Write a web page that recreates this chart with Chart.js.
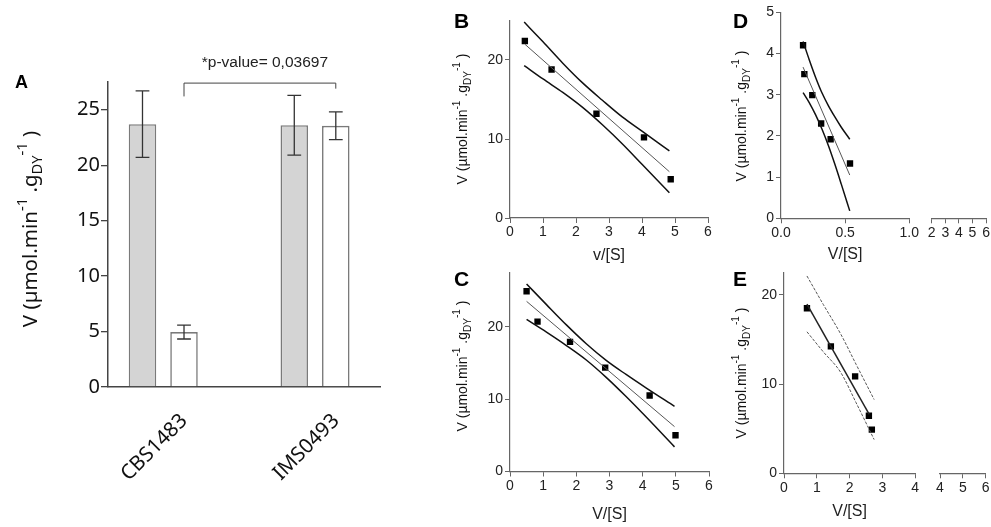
<!DOCTYPE html>
<html>
<head>
<meta charset="utf-8">
<script src="https://cdn.jsdelivr.net/npm/chart.js@4.4.1/dist/chart.umd.min.js"></script>
<style>
  body { margin: 0; background: #fff; }
  #wrap { position: relative; width: 991px; height: 527px; overflow: hidden; background: #fff; }
  #wrap canvas { position: absolute; }
</style>
</head>
<body>
<div id="wrap">
  <canvas id="chartA" width="390" height="527" style="left:0;top:0"></canvas>
  <canvas id="chartB" width="300" height="265" style="left:420px;top:0"></canvas>
  <canvas id="chartC" width="300" height="265" style="left:420px;top:262px"></canvas>
  <canvas id="chartD" width="200" height="265" style="left:720px;top:0"></canvas>
  <canvas id="chartD2" width="69" height="265" style="left:922px;top:0"></canvas>
  <canvas id="chartE" width="200" height="265" style="left:720px;top:262px"></canvas>
  <canvas id="chartE2" width="69" height="265" style="left:922px;top:262px"></canvas>
</div>
<script>
// Panel A - bars with error bars
const strains = ['CBS1483', 'IMS0493'];
const grayMean = [23.7, 23.6];
const grayErr = [3.0, 2.7];
const whiteMean = [4.95, 23.55];
const whiteErr = [0.62, 1.25];
const aTicks = [0, 5, 10, 15, 20, 25];
const bracketTop = 27.4;
const bracketLegs = [26.2, 26.9];
const pText = '*p-value= 0,03697';

// Panel B
const bX = [0.45, 1.26, 2.62, 4.06, 4.87];
const bY = [22.4, 18.8, 13.2, 10.2, 4.9];
const bFitX = [0.45, 4.83];
const bFitY = [22.0, 5.86];
const bBandX = [0.43, 1.0, 1.6, 2.2, 2.8, 3.4, 4.0, 4.83];
const bUpY = [24.8, 22.3, 19.6, 17.1, 14.9, 12.8, 11.0, 8.5];
const bLoY = [19.3, 17.6, 15.9, 14.0, 11.8, 9.4, 6.8, 3.2];
const bTicksY = [0, 10, 20];

// Panel C
const cX = [0.50, 0.83, 1.81, 2.87, 4.21, 4.99];
const cY = [24.9, 20.7, 17.9, 14.35, 10.5, 5.0];
const cFitX = [0.5, 4.96];
const cFitY = [23.5, 6.2];
const cBandX = [0.5, 1.1, 1.7, 2.3, 2.9, 3.5, 4.1, 4.96];
const cUpY = [25.9, 23.05, 20.25, 17.65, 15.35, 13.4, 11.55, 9.0];
const cLoY = [21.0, 19.25, 17.4, 15.4, 13.0, 10.35, 7.55, 3.4];
const cTicksY = [0, 10, 20];

// Panel D
const dX = [0.172, 0.182, 0.244, 0.313, 0.387, 0.538];
const dY = [4.2, 3.5, 2.99, 2.3, 1.92, 1.33];
const dFitX = [0.172, 0.536];
const dFitY = [3.67, 1.05];
const dBandX = [0.172, 0.22, 0.27, 0.32, 0.37, 0.42, 0.47, 0.536];
const dUpY = [4.29, 3.85, 3.42, 3.04, 2.73, 2.46, 2.21, 1.92];
const dLoY = [3.05, 2.81, 2.51, 2.16, 1.76, 1.31, 0.83, 0.18];
const dTicksX = [0, 0.5, 1.0];
const dBreakTicks = [2, 3, 4, 5, 6];

// Panel E
const eX = [0.70, 1.43, 2.17, 2.59, 2.68];
const eY = [18.48, 14.22, 10.85, 6.44, 4.89];
const eFitX = [0.70, 2.6];
const eFitY = [18.96, 6.6];
const eBandX = [0.70, 1.2, 1.73, 2.2, 2.75];
const eUpY = [22.1, 18.9, 15.6, 12.2, 8.26];
const eLoY = [15.85, 13.6, 11.3, 7.9, 3.78];
const eTicksY = [0, 10, 20];
const eBreakTicks = [4, 5, 6];

const yTitleParts = [['V (\u00b5mol.min', 0], ['-1', 1], [' .g', 0], ['DY', -1], ['-1', 1], [' )', 0]];

const pts = (xs, ys) => xs.map((x, i) => ({ x: x, y: ys[i] }));

function drawRich(ctx, parts, x, y, size, family) {
    ctx.save();
    ctx.translate(x, y);
    ctx.rotate(-Math.PI / 2);
    ctx.textBaseline = 'alphabetic';
    ctx.textAlign = 'left';
    ctx.fillStyle = '#111';
    const fontOf = k => (k ? size * 0.72 : size) + 'px ' + family;
    const widths = parts.map(p => { ctx.font = fontOf(p[1]); return ctx.measureText(p[0]).width; });
    let cur = -widths.reduce((a, b) => a + b, 0) / 2;
    parts.forEach((p, i) => {
        ctx.font = fontOf(p[1]);
        const dy = p[1] === 1 ? -size * 0.5 : (p[1] === -1 ? size * 0.25 : 0);
        ctx.fillText(p[0], cur, dy);
        cur += widths[i];
    });
    ctx.restore();
}

// panel letter + rotated y title
function decor(cfg) {
    return {
        id: 'decor',
        afterDraw(chart) {
            const ctx = chart.ctx;
            ctx.save();
            ctx.fillStyle = '#000';
            ctx.font = 'bold ' + cfg.labelSize + 'px "Liberation Sans"';
            ctx.textBaseline = 'alphabetic';
            ctx.fillText(cfg.label, cfg.lx, cfg.ly);
            ctx.restore();
            drawRich(ctx, yTitleParts, cfg.tx, cfg.ty, cfg.titleSize, cfg.family);
        }
    };
}

const errorBars = {
    id: 'errorBars',
    afterDatasetsDraw(chart) {
        const ctx = chart.ctx;
        const y = chart.scales.y;
        ctx.save();
        ctx.strokeStyle = '#333';
        ctx.lineWidth = 1.3;
        chart.data.datasets.forEach((ds, di) => {
            chart.getDatasetMeta(di).data.forEach((bar, i) => {
                const m = ds.data[i].y, e = ds.errors[i];
                const top = y.getPixelForValue(m + e), bot = y.getPixelForValue(m - e);
                const cap = bar.width * 0.25;
                ctx.beginPath();
                ctx.moveTo(bar.x, top); ctx.lineTo(bar.x, bot);
                ctx.moveTo(bar.x - cap, top); ctx.lineTo(bar.x + cap, top);
                ctx.moveTo(bar.x - cap, bot); ctx.lineTo(bar.x + cap, bot);
                ctx.stroke();
            });
        });
        // significance bracket between the white bars
        const w = chart.getDatasetMeta(1).data;
        const yt = y.getPixelForValue(bracketTop);
        ctx.lineWidth = 1;
        ctx.strokeStyle = '#444';
        ctx.beginPath();
        ctx.moveTo(w[0].x, y.getPixelForValue(bracketLegs[0]));
        ctx.lineTo(w[0].x, yt);
        ctx.lineTo(w[1].x, yt);
        ctx.lineTo(w[1].x, y.getPixelForValue(bracketLegs[1]));
        ctx.stroke();
        ctx.fillStyle = '#222';
        ctx.font = '15.5px "Liberation Sans"';
        ctx.textAlign = 'center';
        ctx.textBaseline = 'middle';
        ctx.fillText(pText, (w[0].x + w[1].x) / 2 + 5, yt - 20);
        ctx.restore();
    }
};

Chart.defaults.font.family = '"Liberation Sans", Arial, sans-serif';
Chart.defaults.color = '#222';

const commonOptions = {
    responsive: false,
    animation: false,
    events: [],
    plugins: { legend: { display: false }, tooltip: { enabled: false } }
};

// Panel A
new Chart(document.getElementById('chartA'), {
    type: 'bar',
    data: {
        datasets: [{
            data: pts(strains.map((s, i) => i), grayMean),
            errors: grayErr,
            backgroundColor: '#d4d4d4',
            borderColor: '#7a7a7a',
            borderWidth: 1.6,
            categoryPercentage: 0.547,
            barPercentage: 0.663
        }, {
            data: pts(strains.map((s, i) => i), whiteMean),
            errors: whiteErr,
            backgroundColor: '#ffffff',
            borderColor: '#7a7a7a',
            borderWidth: 1.6,
            categoryPercentage: 0.547,
            barPercentage: 0.663
        }]
    },
    options: {
        ...commonOptions,
        layout: { padding: { top: 82, right: 10, left: 0, bottom: 0 } },
        scales: {
            x: {
                type: 'linear',
                offset: false,
                min: -0.364,
                max: 1.428,
                afterBuildTicks: s => { s.ticks = strains.map((c, i) => ({ value: i })); },
                afterFit: s => { s.height = 140; },
                grid: { display: false, drawTicks: false },
                border: { color: '#444', width: 1.5 },
                ticks: {
                    callback: v => strains[v],
                    minRotation: 45,
                    maxRotation: 45,
                    labelOffset: 21,
                    padding: 22,
                    color: '#111',
                    font: { family: '"Noto Sans"', size: 20.5 }
                }
            },
            y: {
                min: 0,
                max: 27.5,
                afterBuildTicks: s => { s.ticks = aTicks.map(v => ({ value: v })); },
                afterFit: s => { s.width = 108; },
                grid: { drawOnChartArea: false, tickLength: 7, color: '#444', lineWidth: 1.3 },
                border: { color: '#444', width: 1.5 },
                ticks: { padding: 1, color: '#111', font: { family: '"Noto Sans"', size: 20 } }
            }
        }
    },
    plugins: [errorBars, decor({ label: 'A', lx: 15, ly: 88, labelSize: 18, tx: 37, ty: 229, titleSize: 20.5, family: '"Noto Sans"' })]
});

// helpers for the Eadie-Hofstee panels
function bandSet(xs, ys, opts) {
    return Object.assign({
        data: pts(xs, ys), showLine: true, pointRadius: 0, fill: false,
        borderColor: '#111', borderWidth: 1.5, cubicInterpolationMode: 'monotone', tension: 0.4
    }, opts || {});
}
function pointSet(xs, ys) {
    return { data: pts(xs, ys), showLine: false, pointStyle: 'rect', pointRadius: 4.5, backgroundColor: '#000', borderColor: '#000', borderWidth: 0 };
}
function axisX(min, max, ticks, title, height, titlePad, fmt) {
    return {
        type: 'linear', min: min, max: max,
        afterBuildTicks: s => { s.ticks = ticks.map(v => ({ value: v })); },
        afterFit: s => { s.height = height; },
        grid: { drawOnChartArea: false, tickLength: 5, color: '#666', lineWidth: 1 },
        border: { color: '#666', width: 1.2 },
        ticks: { padding: 1, color: '#222', font: { size: 14 }, callback: fmt || (v => v) },
        title: { display: !!title, text: title, color: '#222', font: { size: 16 }, padding: { top: 0, bottom: titlePad } }
    };
}
function axisY(min, max, ticks, width, display) {
    return {
        display: display !== false,
        min: min, max: max,
        afterBuildTicks: s => { s.ticks = ticks.map(v => ({ value: v })); },
        afterFit: s => { s.width = width; },
        grid: { drawOnChartArea: false, tickLength: 5, color: '#666', lineWidth: 1 },
        border: { color: '#666', width: 1.2 },
        ticks: { padding: 2, color: '#222', font: { size: 14 } }
    };
}
const range = (a, b) => { const r = []; for (let v = a; v <= b; v++) r.push(v); return r; };

// Panel B
new Chart(document.getElementById('chartB'), {
    type: 'scatter',
    data: { datasets: [
        bandSet(bBandX, bUpY), bandSet(bBandX, bLoY),
        bandSet(bFitX, bFitY, { borderColor: '#555', borderWidth: 1, tension: 0 }),
        pointSet(bX, bY)
    ] },
    options: {
        ...commonOptions,
        layout: { padding: { top: 20.5, right: 12, left: 0, bottom: 0 } },
        scales: { x: axisX(0, 6, range(0, 6), 'v/[S]', 47, 0), y: axisY(0, 25, bTicksY, 90) }
    },
    plugins: [decor({ label: 'B', lx: 34, ly: 28, labelSize: 21, tx: 47, ty: 119, titleSize: 14, family: '"Liberation Sans"' })]
});

// Panel C
new Chart(document.getElementById('chartC'), {
    type: 'scatter',
    data: { datasets: [
        bandSet(cBandX, cUpY), bandSet(cBandX, cLoY),
        bandSet(cFitX, cFitY, { borderColor: '#555', borderWidth: 1, tension: 0 }),
        pointSet(cX, cY)
    ] },
    options: {
        ...commonOptions,
        layout: { padding: { top: 9, right: 11, left: 0, bottom: 0 } },
        scales: { x: axisX(0, 6, range(0, 6), 'V/[S]', 55.5, 2.4), y: axisY(0, 27.5, cTicksY, 90) }
    },
    plugins: [decor({ label: 'C', lx: 34, ly: 24, labelSize: 21, tx: 47, ty: 104, titleSize: 14, family: '"Liberation Sans"' })]
});

// Panel D
new Chart(document.getElementById('chartD'), {
    type: 'scatter',
    data: { datasets: [
        bandSet(dBandX, dUpY), bandSet(dBandX, dLoY),
        bandSet(dFitX, dFitY, { borderColor: '#555', borderWidth: 1, tension: 0 }),
        pointSet(dX, dY)
    ] },
    options: {
        ...commonOptions,
        layout: { padding: { top: 12.3, right: 9, left: 0, bottom: 0 } },
        scales: {
            x: axisX(0, 1, dTicksX, 'V/[S]', 46.7, 0.4, v => v.toFixed(1)),
            y: axisY(0, 5, range(0, 5), 61)
        }
    },
    plugins: [decor({ label: 'D', lx: 13, ly: 28, labelSize: 21, tx: 26, ty: 116, titleSize: 14, family: '"Liberation Sans"' })]
});

// Panel D, broken x-axis segment
new Chart(document.getElementById('chartD2'), {
    type: 'scatter',
    data: { datasets: [{ data: [] }] },
    options: {
        ...commonOptions,
        layout: { padding: { top: 12.3, right: 3.7, left: 9.7, bottom: 0 } },
        scales: { x: axisX(2, 6, dBreakTicks, '', 46.7, 0), y: axisY(0, 5, [], 0, false) }
    }
});

// Panel E
new Chart(document.getElementById('chartE'), {
    type: 'scatter',
    data: { datasets: [
        bandSet(eBandX, eUpY, { borderColor: '#555', borderWidth: 1, borderDash: [3, 1.5] }),
        bandSet(eBandX, eLoY, { borderColor: '#555', borderWidth: 1, borderDash: [3, 1.5] }),
        bandSet(eFitX, eFitY, { borderColor: '#222', borderWidth: 1.5, tension: 0 }),
        pointSet(eX, eY)
    ] },
    options: {
        ...commonOptions,
        layout: { padding: { top: 8.8, right: 3.7, left: 0, bottom: 0 } },
        scales: { x: axisX(0, 4, range(0, 4), 'V/[S]', 53.7, 5.4), y: axisY(0, 22.5, eTicksY, 64) }
    },
    plugins: [decor({ label: 'E', lx: 13, ly: 24, labelSize: 21, tx: 26, ty: 111, titleSize: 14, family: '"Liberation Sans"' })]
});

// Panel E, broken x-axis segment
new Chart(document.getElementById('chartE2'), {
    type: 'scatter',
    data: { datasets: [{ data: [] }] },
    options: {
        ...commonOptions,
        layout: { padding: { top: 8.8, right: 5.3, left: 18, bottom: 0 } },
        scales: { x: axisX(4, 6, eBreakTicks, '', 53.7, 0), y: axisY(0, 22.5, [], 0, false) }
    }
});
</script>
</body>
</html>
